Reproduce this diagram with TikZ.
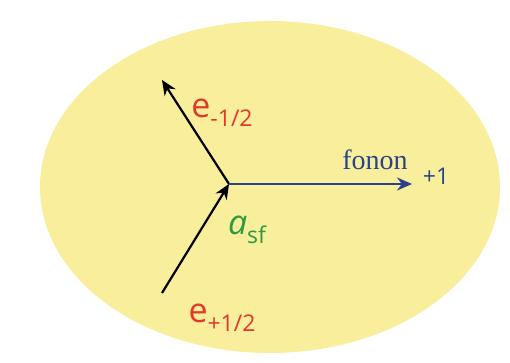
\documentclass[tikz,border=0pt]{standalone}
\usepackage{fontspec}
\setmainfont{Liberation Serif}
\newfontfamily\labelsans{Open Sans}
\usetikzlibrary{arrows.meta}
\definecolor{blobyellow}{HTML}{F8EE9C}
\definecolor{legred}{HTML}{E0392B}
\definecolor{leggreen}{HTML}{2E9A3E}
\definecolor{phonblue}{HTML}{2C4289}
\newcommand{\lowidx}[1]{\raisebox{-9pt}{\fontsize{23}{23}\selectfont #1}}
\tikzset{
  leg/.style     = {-{Stealth[length=15pt,width=13pt]}, line width=2.2pt, draw=black},
  phonleg/.style = {-{Stealth[length=15pt,width=13pt]}, line width=2.2pt, draw=phonblue},
  elabel/.style  = {text=legred, inner sep=0pt, font=\labelsans\fontsize{34}{34}\selectfont},
  vlabel/.style  = {text=leggreen, inner sep=0pt, font=\labelsans\itshape\fontsize{34}{34}\selectfont},
}

\begin{document}
\begin{tikzpicture}[x=1pt,y=1pt]
        \useasboundingbox (0,0) rectangle (510,363);
        \fill[blobyellow] (270,176) ellipse [x radius=230, y radius=166];
        % vertex and free ends
        \coordinate (v) at (229,179);
        \coordinate (eout) at (162,283);
        \coordinate (ein) at (162,70);
        \coordinate (ph) at (412,179);
        \draw[leg] (ein) -- (v);
        \draw[leg] (v) -- (eout);
        \draw[phonleg] (v) -- (ph);
        \node[elabel] (eminus) at (222,250) {e\lowidx{-1/2}};
        \node[elabel] (eplus) at (222,45) {e\lowidx{+1/2}};
        \node[vlabel] (asf) at (247,133) {a\lowidx{\upshape sf}};
        \node[text=phonblue, inner sep=0pt, font=\fontsize{28}{28}\selectfont] (fonon) at (375,203) {fonon};
        \node[text=phonblue, inner sep=0pt, font=\labelsans\fontsize{23}{23}\selectfont] (plusone) at (436,187) {+1};
      \end{tikzpicture}
\end{document}
